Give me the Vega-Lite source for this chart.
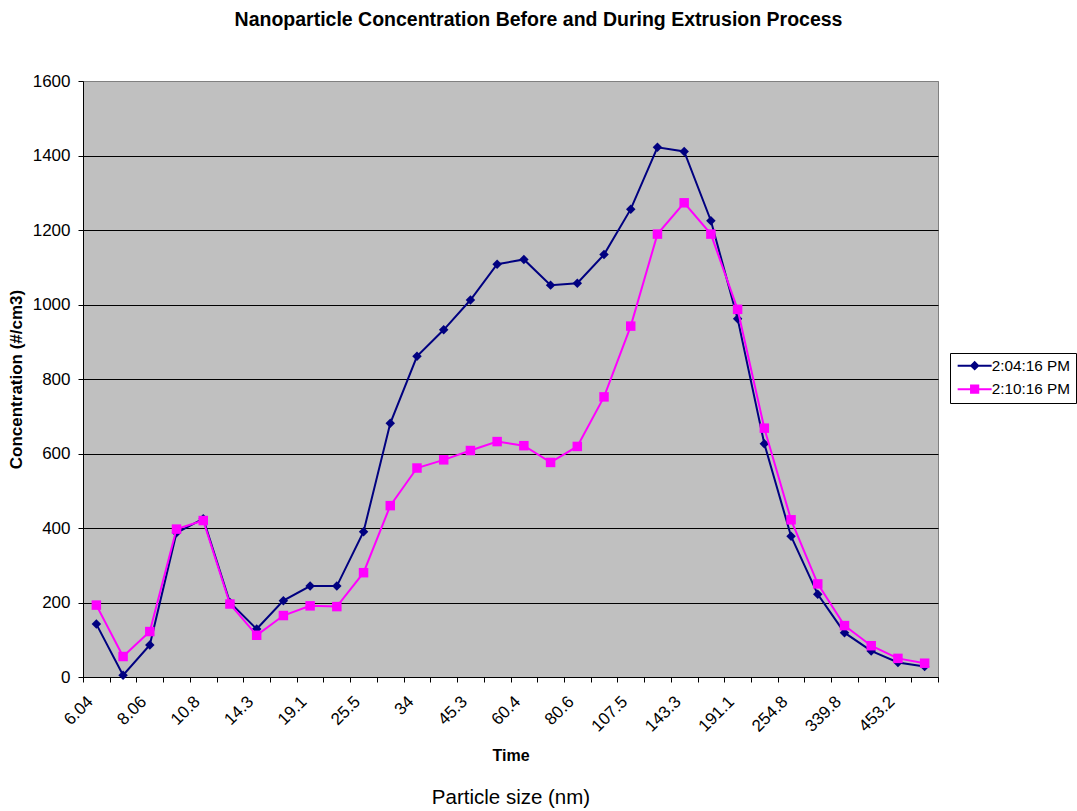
{
  "$schema": "https://vega.github.io/schema/vega-lite/v6.json",
  "background": "white",
  "padding": {"left": 7, "top": 9, "right": 0, "bottom": 0},
  "width": 855,
  "height": 596,
  "title": {
    "text": "Nanoparticle Concentration Before and During Extrusion Process",
    "fontSize": 19.5,
    "fontWeight": "bold",
    "color": "black",
    "anchor": "middle",
    "baseline": "top",
    "dx": 28,
    "offset": 42
  },
  "data": {
    "values": [
      {"size": "6.04", "series": "2:04:16 PM", "conc": 142},
      {"size": "6.98", "series": "2:04:16 PM", "conc": 5},
      {"size": "8.06", "series": "2:04:16 PM", "conc": 86},
      {"size": "9.31", "series": "2:04:16 PM", "conc": 387},
      {"size": "10.8", "series": "2:04:16 PM", "conc": 425},
      {"size": "12.4", "series": "2:04:16 PM", "conc": 200},
      {"size": "14.3", "series": "2:04:16 PM", "conc": 129},
      {"size": "16.5", "series": "2:04:16 PM", "conc": 205},
      {"size": "19.1", "series": "2:04:16 PM", "conc": 244},
      {"size": "22.1", "series": "2:04:16 PM", "conc": 244},
      {"size": "25.5", "series": "2:04:16 PM", "conc": 390},
      {"size": "29.4", "series": "2:04:16 PM", "conc": 681},
      {"size": "34", "series": "2:04:16 PM", "conc": 861},
      {"size": "39.2", "series": "2:04:16 PM", "conc": 932},
      {"size": "45.3", "series": "2:04:16 PM", "conc": 1012},
      {"size": "52.3", "series": "2:04:16 PM", "conc": 1108},
      {"size": "60.4", "series": "2:04:16 PM", "conc": 1121},
      {"size": "69.8", "series": "2:04:16 PM", "conc": 1052},
      {"size": "80.6", "series": "2:04:16 PM", "conc": 1057},
      {"size": "93.1", "series": "2:04:16 PM", "conc": 1134},
      {"size": "107.5", "series": "2:04:16 PM", "conc": 1256},
      {"size": "124.1", "series": "2:04:16 PM", "conc": 1422},
      {"size": "143.3", "series": "2:04:16 PM", "conc": 1411},
      {"size": "165.5", "series": "2:04:16 PM", "conc": 1225},
      {"size": "191.1", "series": "2:04:16 PM", "conc": 962},
      {"size": "220.7", "series": "2:04:16 PM", "conc": 626},
      {"size": "254.8", "series": "2:04:16 PM", "conc": 378},
      {"size": "294.3", "series": "2:04:16 PM", "conc": 222},
      {"size": "339.8", "series": "2:04:16 PM", "conc": 119},
      {"size": "392.4", "series": "2:04:16 PM", "conc": 70},
      {"size": "453.2", "series": "2:04:16 PM", "conc": 39},
      {"size": "523.3", "series": "2:04:16 PM", "conc": 28},
      {"size": "6.04", "series": "2:10:16 PM", "conc": 193},
      {"size": "6.98", "series": "2:10:16 PM", "conc": 55},
      {"size": "8.06", "series": "2:10:16 PM", "conc": 122},
      {"size": "9.31", "series": "2:10:16 PM", "conc": 397},
      {"size": "10.8", "series": "2:10:16 PM", "conc": 420},
      {"size": "12.4", "series": "2:10:16 PM", "conc": 196},
      {"size": "14.3", "series": "2:10:16 PM", "conc": 112},
      {"size": "16.5", "series": "2:10:16 PM", "conc": 165},
      {"size": "19.1", "series": "2:10:16 PM", "conc": 191},
      {"size": "22.1", "series": "2:10:16 PM", "conc": 189},
      {"size": "25.5", "series": "2:10:16 PM", "conc": 280},
      {"size": "29.4", "series": "2:10:16 PM", "conc": 460},
      {"size": "34", "series": "2:10:16 PM", "conc": 561},
      {"size": "39.2", "series": "2:10:16 PM", "conc": 583},
      {"size": "45.3", "series": "2:10:16 PM", "conc": 608},
      {"size": "52.3", "series": "2:10:16 PM", "conc": 632},
      {"size": "60.4", "series": "2:10:16 PM", "conc": 621},
      {"size": "69.8", "series": "2:10:16 PM", "conc": 576},
      {"size": "80.6", "series": "2:10:16 PM", "conc": 619},
      {"size": "93.1", "series": "2:10:16 PM", "conc": 752},
      {"size": "107.5", "series": "2:10:16 PM", "conc": 942},
      {"size": "124.1", "series": "2:10:16 PM", "conc": 1189},
      {"size": "143.3", "series": "2:10:16 PM", "conc": 1273},
      {"size": "165.5", "series": "2:10:16 PM", "conc": 1189},
      {"size": "191.1", "series": "2:10:16 PM", "conc": 987},
      {"size": "220.7", "series": "2:10:16 PM", "conc": 668},
      {"size": "254.8", "series": "2:10:16 PM", "conc": 422},
      {"size": "294.3", "series": "2:10:16 PM", "conc": 250},
      {"size": "339.8", "series": "2:10:16 PM", "conc": 138},
      {"size": "392.4", "series": "2:10:16 PM", "conc": 84},
      {"size": "453.2", "series": "2:10:16 PM", "conc": 50},
      {"size": "523.3", "series": "2:10:16 PM", "conc": 37}
    ]
  },
  "encoding": {
    "y": {
      "field": "conc",
      "type": "quantitative",
      "scale": {"domain": [0, 1600], "nice": false, "zero": true},
      "axis": {
        "title": "Concentration (#/cm3)",
        "titleFontSize": 17,
        "titleFontWeight": "bold",
        "titlePadding": 7,
        "values": [0, 200, 400, 600, 800, 1000, 1200, 1400, 1600],
        "format": "d",
        "labelFontSize": 17,
        "labelPadding": 8,
        "tickSize": 5,
        "grid": true,
        "gridColor": {"condition": {"test": "datum.value === 1600", "value": "#808080"}, "value": "black"},
        "gridOpacity": 1
      }
    }
  },
  "layer": [
    {
      "encoding": {
        "x": {
          "field": "size",
          "type": "nominal",
          "scale": {
            "type": "band",
            "paddingInner": 0,
            "paddingOuter": 0,
            "domain": ["6.04","6.98","8.06","9.31","10.8","12.4","14.3","16.5","19.1","22.1","25.5","29.4","34","39.2","45.3","52.3","60.4","69.8","80.6","93.1","107.5","124.1","143.3","165.5","191.1","220.7","254.8","294.3","339.8","392.4","453.2","523.3"]
          },
          "axis": {
            "orient": "bottom",
            "title": "Time",
            "titleFontSize": 16,
            "titleFontWeight": "bold",
            "titlePadding": 13,
            "labelAngle": -45,
            "labelFontSize": 17,
            "labelPadding": 11,
            "labelOffset": -12,
            "labelOverlap": false,
            "labelExpr": "indexof(['6.04','8.06','10.8','14.3','19.1','25.5','34','45.3','60.4','80.6','107.5','143.3','191.1','254.8','339.8','453.2'], datum.value) >= 0 ? datum.label : ''",
            "tickBand": "extent",
            "tickSize": 5,
            "grid": false
          }
        }
      },
      "layer": [
        {
          "transform": [{"filter": {"field": "series", "equal": "2:04:16 PM"}}],
          "mark": {"type": "line", "color": "#000080", "strokeWidth": 2}
        },
        {
          "transform": [{"filter": {"field": "series", "equal": "2:04:16 PM"}}],
          "mark": {"type": "point", "shape": "diamond", "filled": true, "color": "#000080", "size": 90, "opacity": 1}
        },
        {
          "transform": [{"filter": {"field": "series", "equal": "2:10:16 PM"}}],
          "mark": {"type": "line", "color": "#FF00FF", "strokeWidth": 2}
        },
        {
          "transform": [{"filter": {"field": "series", "equal": "2:10:16 PM"}}],
          "mark": {"type": "point", "shape": "square", "filled": true, "color": "#FF00FF", "size": 90, "opacity": 1}
        }
      ]
    },
    {
      "mark": {"type": "point", "filled": true, "opacity": 0},
      "encoding": {
        "x": {
          "field": "size",
          "type": "nominal",
          "axis": {
            "orient": "bottom",
            "title": "Particle size (nm)",
            "titleFontSize": 20.5,
            "titleFontWeight": "normal",
            "titlePadding": 110,
            "labels": false,
            "ticks": false,
            "domain": false,
            "grid": false
          }
        },
        "color": {
          "field": "series",
          "type": "nominal",
          "scale": {"domain": ["2:04:16 PM", "2:10:16 PM"], "range": ["#000080", "#FF00FF"]},
          "legend": {
            "title": null,
            "orient": "none",
            "legendX": 867,
            "legendY": 272,
            "padding": 5,
            "rowPadding": 7.5,
            "strokeColor": "black",
            "fillColor": "white",
            "symbolSize": 100,
            "symbolOffset": 12,
            "symbolStrokeWidth": 0,
            "symbolOpacity": 1,
            "labelFontSize": 15.3,
            "labelOffset": 9.5,
            "labelColor": "black"
          }
        },
        "shape": {
          "field": "series",
          "type": "nominal",
          "scale": {
            "domain": ["2:04:16 PM", "2:10:16 PM"],
            "range": [
              "M-3.4,-0.2H3.4V0.2H-3.4Z M0,-0.98L0.98,0L0,0.98L-0.98,0Z",
              "M-3.4,-0.2H3.4V0.2H-3.4Z M-0.92,-0.92H0.92V0.92H-0.92Z"
            ]
          },
          "legend": {
            "title": null,
            "orient": "none",
            "legendX": 867,
            "legendY": 272,
            "padding": 5,
            "rowPadding": 7.5,
            "strokeColor": "black",
            "fillColor": "white",
            "symbolSize": 100,
            "symbolOffset": 12,
            "symbolStrokeWidth": 0,
            "symbolOpacity": 1,
            "labelFontSize": 15.3,
            "labelOffset": 9.5,
            "labelColor": "black"
          }
        }
      }
    }
  ],
  "resolve": {"axis": {"x": "independent"}},
  "config": {
    "font": "Liberation Sans",
    "view": {"stroke": "#808080", "fill": "#C0C0C0"},
    "axis": {
      "domainColor": "black",
      "domainWidth": 1,
      "tickColor": "black",
      "tickWidth": 1,
      "labelColor": "black",
      "titleColor": "black",
      "gridWidth": 1
    }
  }
}
